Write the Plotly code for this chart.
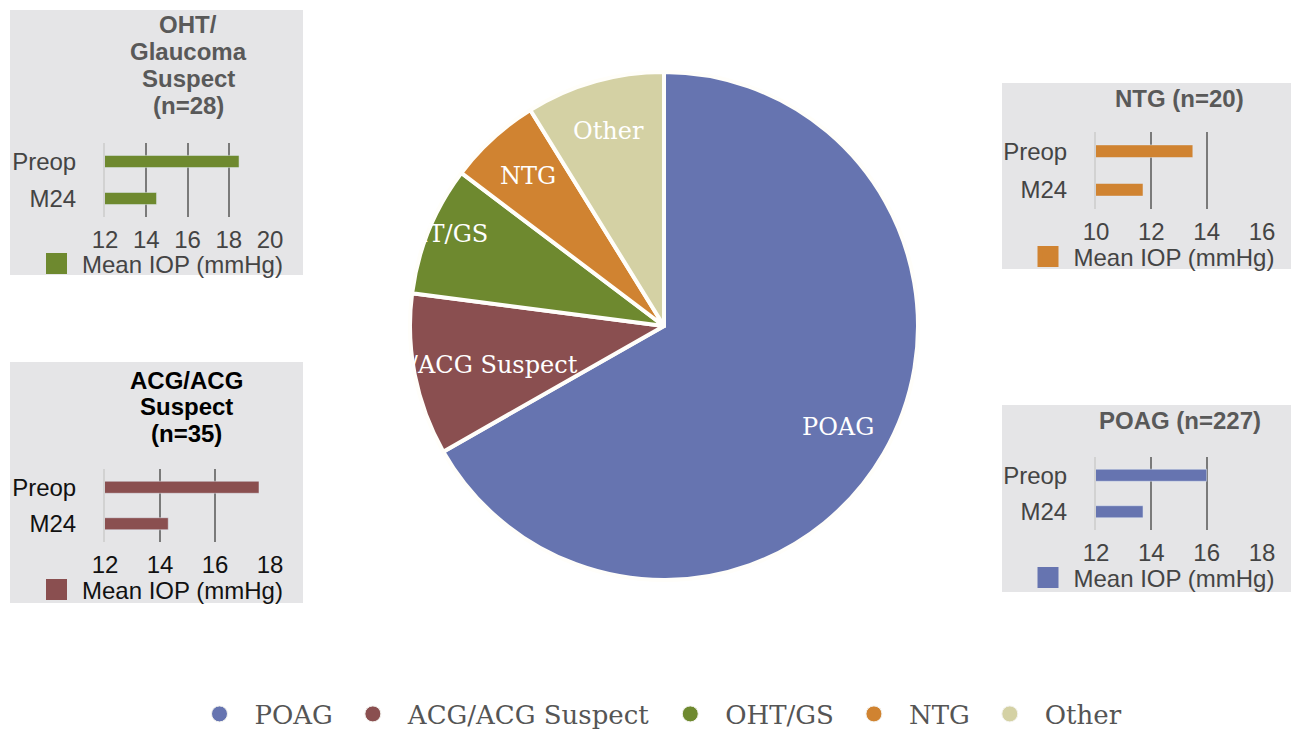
import math
import plotly.graph_objects as go

W, H = 1299, 730

# ---------------- data ----------------
pie_labels = ["POAG", "ACG/ACG Suspect", "OHT/GS", "NTG", "Other"]
pie_values = [227, 35, 28, 20, 30]
pie_colors = ["#6674b0", "#8a4f50", "#6e892f", "#d08331", "#d4d1a4"]

bar_categories = ["Preop", "M24"]
oht_values = [18.5, 14.5]
acg_values = [17.6, 14.3]
ntg_values = [13.5, 11.7]
poag_values = [16.0, 13.7]

oht_ticks = [12, 14, 16, 18, 20]
acg_ticks = [12, 14, 16, 18]
ntg_ticks = [10, 12, 14, 16]
poag_ticks = [12, 14, 16, 18]

oht_title = ["OHT/", "Glaucoma", "Suspect", "(n=28)"]
acg_title = ["ACG/ACG", "Suspect", "(n=35)"]
ntg_title = ["NTG (n=20)"]
poag_title = ["POAG (n=227)"]

bar_series_name = "Mean IOP (mmHg)"

# ---------------- layout helpers ----------------
OFF = 8  # page body margin of the html page


def fx(px):
    return (px - OFF) / W


def fy(px):
    return 1 - (px - OFF) / H


PIE_CX, PIE_CY, PIE_R = 664, 326, 254
label_radius = [0.794, 0.794, 0.96, 0.797, 0.798]

panels = [
    dict(values=oht_values, ticks=oht_ticks, title=oht_title, color=pie_colors[2],
         box=(10, 10, 303, 275), plot=(105, 270, 143, 217), title_y=25, title_x=188,
         legend=(57.5, 264), text="#444444", title_color="#595959"),
    dict(values=acg_values, ticks=acg_ticks, title=acg_title, color=pie_colors[1],
         box=(10, 362, 303, 603), plot=(105, 270, 469, 542), title_y=380, title_x=186,
         legend=(57.5, 590), text="#111111", title_color="#000000"),
    dict(values=ntg_values, ticks=ntg_ticks, title=ntg_title, color=pie_colors[3],
         box=(1002, 83, 1295, 269), plot=(1096, 1262, 132, 209), title_y=98, title_x=1179,
         legend=(1049, 257), text="#444444", title_color="#595959"),
    dict(values=poag_values, ticks=poag_ticks, title=poag_title, color=pie_colors[0],
         box=(1002, 405, 1295, 592), plot=(1096, 1262, 457, 530), title_y=420, title_x=1180,
         legend=(1049, 578), text="#444444", title_color="#595959"),
]

fig = go.Figure()

# ---------------- pie ----------------
fig.add_trace(go.Pie(
    labels=pie_labels, values=pie_values, sort=False, direction="clockwise",
    rotation=0,
    marker=dict(colors=pie_colors, line=dict(color="#fffefa", width=4)),
    textinfo="none",
    domain=dict(x=[fx(PIE_CX - PIE_R), fx(PIE_CX + PIE_R)],
                y=[fy(PIE_CY + PIE_R), fy(PIE_CY - PIE_R)]),
    showlegend=False, hoverinfo="label+value",
))

annotations = []

# slice labels at the middle angle of each slice (white, may overflow the pie)
total = float(sum(pie_values))
cum = 0.0
for lab, val, rf in zip(pie_labels, pie_values, label_radius):
    mid = (cum + val / 2.0) / total * 2 * math.pi
    cum += val
    px = PIE_CX + rf * PIE_R * math.sin(mid)
    py = PIE_CY - rf * PIE_R * math.cos(mid)
    annotations.append(dict(
        text=lab, x=fx(px), y=fy(py), xref="paper", yref="paper",
        xanchor="center", yanchor="middle", showarrow=False,
        font=dict(family="DejaVu Serif", size=24, color="white"),
    ))

# main legend entries (circles)
for lab, col in zip(pie_labels, pie_colors):
    fig.add_trace(go.Scatter(
        x=[None], y=[None], mode="markers", name=lab,
        marker=dict(symbol="circle", size=16, color=col, line=dict(color="#f4f4f0", width=1)),
        xaxis="x", yaxis="y", legend="legend", showlegend=True,
    ))

shapes = []
layout_extra = {}

for k, p in enumerate(panels, start=1):
    ax = "" if k == 1 else str(k)
    lg = "legend" + str(k + 1)
    x0, x1, y0, y1 = p["plot"]
    tick_min, tick_max = p["ticks"][0], p["ticks"][-1]
    fig.add_trace(go.Bar(
        x=p["values"], y=bar_categories, orientation="h",
        marker=dict(color=p["color"]), width=0.33,
        xaxis="x" + ax, yaxis="y" + ax, showlegend=False, name=bar_series_name,
    ))
    fig.add_trace(go.Scatter(
        x=[None], y=[None], mode="markers", name=bar_series_name,
        marker=dict(symbol="square", size=16, color=p["color"],
                    line=dict(color=p["color"], width=5)),
        xaxis="x" + ax, yaxis="y" + ax, legend=lg, showlegend=True,
    ))
    layout_extra["xaxis" + ax] = dict(
        domain=[fx(x0), fx(x1)], range=[tick_min, tick_max], tickvals=p["ticks"],
        anchor="y" + ax, showgrid=True, gridcolor="#7a7a7a", gridwidth=2,
        zeroline=False, showline=False, ticks="", ticklabelstandoff=6,
        tickfont=dict(family="Liberation Sans", size=24, color=p["text"]),
        fixedrange=True,
    )
    layout_extra["yaxis" + ax] = dict(
        domain=[fy(y1), fy(y0)], type="category", categoryarray=bar_categories,
        range=[1.5, -0.5], anchor="x" + ax, showgrid=False, zeroline=False,
        showline=True, linecolor="#d2d2d2", linewidth=2, ticks="",
        ticklabelstandoff=22,
        tickfont=dict(family="Liberation Sans", size=24, color=p["text"]),
        fixedrange=True,
    )
    lx, ly = p["legend"]
    layout_extra[lg] = dict(
        x=fx(lx - 26.5), xanchor="left", y=fy(ly), yanchor="middle",
        bgcolor="rgba(0,0,0,0)", borderwidth=0, itemwidth=41,
        font=dict(family="Liberation Sans", size=24, color=p["text"]),
        itemclick=False, itemdoubleclick=False,
    )
    bx0, by0, bx1, by1 = p["box"]
    shapes.append(dict(type="rect", xref="paper", yref="paper",
                       x0=fx(bx0), x1=fx(bx1), y0=fy(by1), y1=fy(by0),
                       fillcolor="#e5e5e7", line=dict(width=0), layer="below"))
    for i, line in enumerate(p["title"]):
        annotations.append(dict(
            text="<b>" + line + "</b>", x=fx(p["title_x"]), y=fy(p["title_y"] + i * 26.7),
            xref="paper", yref="paper", xanchor="center", yanchor="middle",
            showarrow=False,
            font=dict(family="Liberation Sans", size=24, color=p["title_color"]),
        ))

fig.update_layout(
    width=W, height=H,
    margin=dict(l=0, r=0, t=0, b=0, autoexpand=False),
    paper_bgcolor="white", plot_bgcolor="rgba(0,0,0,0)",
    shapes=shapes, annotations=annotations,
    legend=dict(
        orientation="h", x=fx(656), xanchor="center", y=fy(714), yanchor="middle",
        font=dict(family="DejaVu Serif", size=26, color="#555555"),
        bgcolor="rgba(0,0,0,0)", itemwidth=60,
        itemclick=False, itemdoubleclick=False,
    ),
    **layout_extra,
)

fig.write_html("out.html")
